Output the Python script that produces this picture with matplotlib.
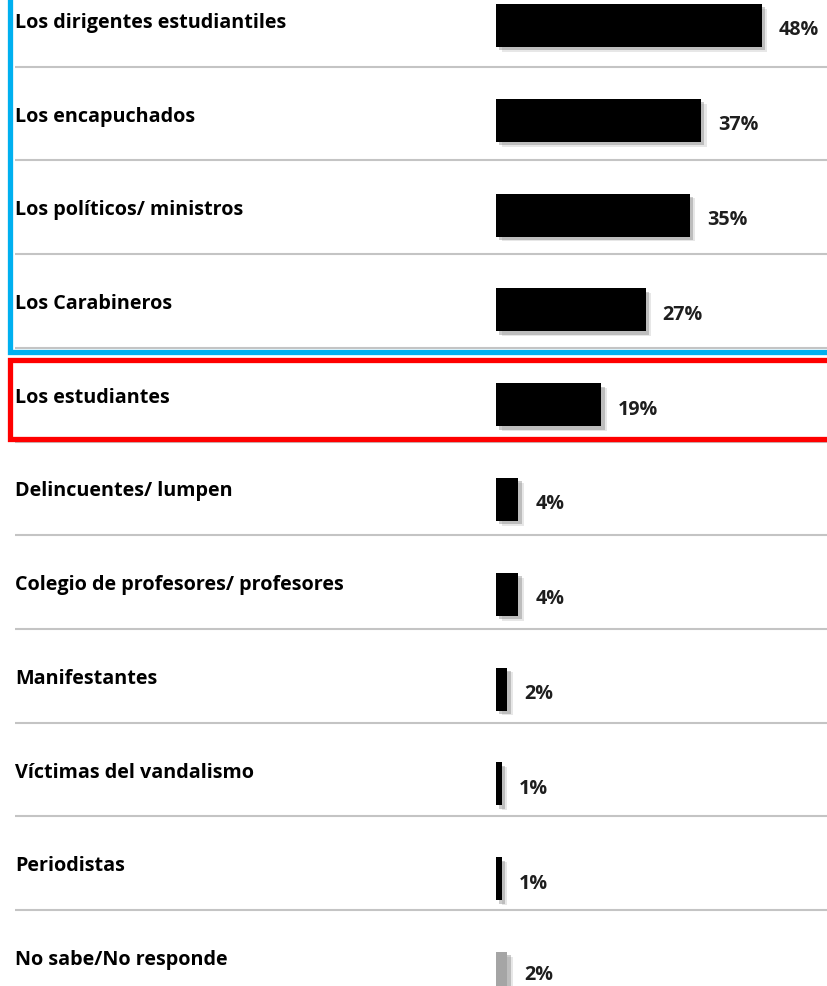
import matplotlib
matplotlib.use("Agg")
import matplotlib.pyplot as plt
from matplotlib import patheffects as pe

# ---- data ----
categories = [
    "Los dirigentes estudiantiles",
    "Los encapuchados",
    "Los políticos/ ministros",
    "Los Carabineros",
    "Los estudiantes",
    "Delincuentes/ lumpen",
    "Colegio de profesores/ profesores",
    "Manifestantes",
    "Víctimas del vandalismo",
    "Periodistas",
    "No sabe/No responde",
]
values = [48, 37, 35, 27, 19, 4, 4, 2, 1, 1, 2]
value_labels = ["48%", "37%", "35%", "27%", "19%", "4%", "4%", "2%", "1%", "1%", "2%"]
bar_colors = ["#000000"] * 10 + ["#a5a5a5"]

# ---- layout (pixels) ----
W, H = 828, 986
px_per_pct = 5.54
x0 = 496
row0, pitch = 25.5, 94.8
grid = 93.7 / pitch

plt.rcParams['font.family'] = ['Open Sans', 'DejaVu Sans']

fig = plt.figure(figsize=(W / 100, H / 100), dpi=100)
ax = fig.add_axes([0, 0, 1, 1])
y_bottom = (H - row0) / pitch
ax.set_xlim(-x0 / px_per_pct, (W - x0) / px_per_pct)
ax.set_ylim(y_bottom, -row0 / pitch)
ax.axis('off')

trans = ax.get_yaxis_transform()  # x axes fraction, y data

n = len(categories)
ypos = list(range(n))

# separator lines
for i in range(n - 1):
    yl = 0.4346 + grid * i
    ax.plot([15 / W, 1.0], [yl, yl], transform=trans, color="#c4c4c4", lw=1.5,
            solid_capstyle='butt', zorder=1)

bars = ax.barh(ypos, values, height=43 / pitch, color=bar_colors, zorder=3)
for b in bars:
    b.set_path_effects([
        pe.SimplePatchShadow(offset=(4.0, -3.5), shadow_rgbFace="#b0b0b0", alpha=0.3),
        pe.SimplePatchShadow(offset=(2.5, -2.5), shadow_rgbFace="#808080", alpha=0.4),
        pe.Normal(),
    ])

for i, (cat, v, lab) in enumerate(zip(categories, values, value_labels)):
    ax.text(15 / W, 0.026 + grid * i, cat, transform=trans, ha='left', va='baseline',
            fontsize=14.2, fontweight='bold', color='black', zorder=4)
    yv = min(i + 0.105, y_bottom - 0.06)
    ax.text(v + 17 / px_per_pct, yv, lab, ha='left', va='baseline',
            fontsize=14.2, fontweight='bold', color='#1e1e1e', zorder=4)

# highlight boxes
bx = 10 / W
blue_bottom = 3.44
ax.plot([bx, bx, 1.01], [-0.5, blue_bottom, blue_bottom], transform=trans,
        color="#00b0f0", lw=3.8, solid_joinstyle='miter', zorder=5, clip_on=False)
red_top, red_bottom = 3.533, 4.366
ax.plot([1.01, bx, bx, 1.01], [red_top, red_top, red_bottom, red_bottom], transform=trans,
        color="#ff0000", lw=3.8, solid_joinstyle='miter', zorder=5, clip_on=False)

fig.savefig("out.png", dpi=100, facecolor='white')
